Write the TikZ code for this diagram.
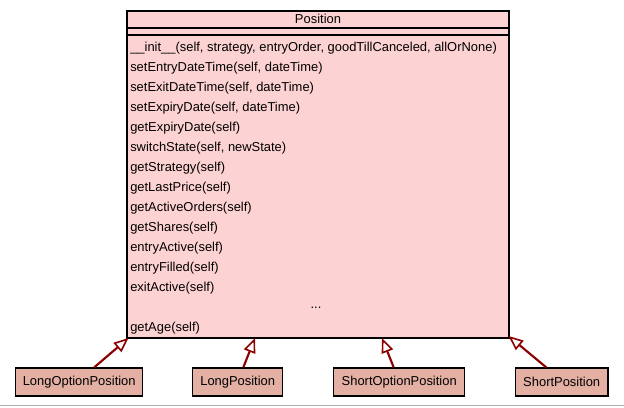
\documentclass[tikz,border=0pt]{standalone}
\usepackage{fontspec}
\setmainfont{Liberation Sans}
\usetikzlibrary{arrows.meta}
\definecolor{classfill}{RGB}{253,210,210}
\definecolor{subfill}{RGB}{228,176,164}
\definecolor{inherit}{RGB}{140,0,0}
\definecolor{rule}{RGB}{176,176,176}
\tikzset{
  member/.style={anchor=west, inner sep=0pt, font=\fontsize{9.7}{11}\selectfont},
  subclass/.style={draw=black, line width=0.9pt, fill=subfill, minimum height=28*0.75pt,
    inner sep=0pt, font=\fontsize{9.7}{11}\selectfont},
  generalize/.style={draw=inherit, line width=1.6pt,
    -{Triangle[open, length=11pt, width=9pt, line width=1.2pt]}},
}
\begin{document}
\begin{tikzpicture}[x=0.75pt, y=-0.75pt]
\useasboundingbox (0,0) rectangle (624,407);
\fill[white] (0,0) rectangle (624,407);
\draw[rule, line width=1pt] (0,405.5) -- (624,405.5);

% base class
\draw[fill=classfill, line width=0.9pt] (127,11) rectangle (509,338);
\draw[line width=0.9pt] (127,28) -- (509,28);
\draw[line width=0.9pt] (127,35) -- (509,35);
\node[member, anchor=center] (title) at (318,19) {Position};
\node[member] (m1)  at (130,48)  {\_\_init\_\_(self, strategy, entryOrder, goodTillCanceled, allOrNone)};
\node[member] (m2)  at (130,68)  {setEntryDateTime(self, dateTime)};
\node[member] (m3)  at (130,88)  {setExitDateTime(self, dateTime)};
\node[member] (m4)  at (130,108) {setExpiryDate(self, dateTime)};
\node[member] (m5)  at (130,128) {getExpiryDate(self)};
\node[member] (m6)  at (130,148) {switchState(self, newState)};
\node[member] (m7)  at (130,168) {getStrategy(self)};
\node[member] (m8)  at (130,188) {getLastPrice(self)};
\node[member] (m9)  at (130,208) {getActiveOrders(self)};
\node[member] (m10) at (130,228) {getShares(self)};
\node[member] (m11) at (130,248) {entryActive(self)};
\node[member] (m12) at (130,268) {entryFilled(self)};
\node[member] (m13) at (130,288) {exitActive(self)};
\node[member, anchor=center] (more) at (316,307.5) {...};
\node[member] (m14) at (130,328.5) {getAge(self)};

% subclasses
\node[subclass, minimum width=127*0.75pt] (lop) at (79.2,382) {LongOptionPosition};
\node[subclass, minimum width=90*0.75pt]  (lp)  at (237.7,382) {LongPosition};
\node[subclass, minimum width=131*0.75pt] (sop) at (399.2,382) {ShortOptionPosition};
\node[subclass, minimum width=92.5*0.75pt] (sp) at (561.7,382) {ShortPosition};

% arrow tips on the base class
\coordinate (t1) at (128.5,338);
\coordinate (t2) at (255,338);
\coordinate (t3) at (382,338);
\coordinate (t4) at (508.5,336);

\draw[generalize] ([xshift=15*0.75pt]lop.north) -- (t1);
\draw[generalize] ([xshift=5.6*0.75pt]lp.north) -- (t2);
\draw[generalize] ([xshift=-5.5*0.75pt]sop.north) -- (t3);
\draw[generalize] ([xshift=-15.4*0.75pt]sp.north) -- (t4);
\end{tikzpicture}
\end{document}
